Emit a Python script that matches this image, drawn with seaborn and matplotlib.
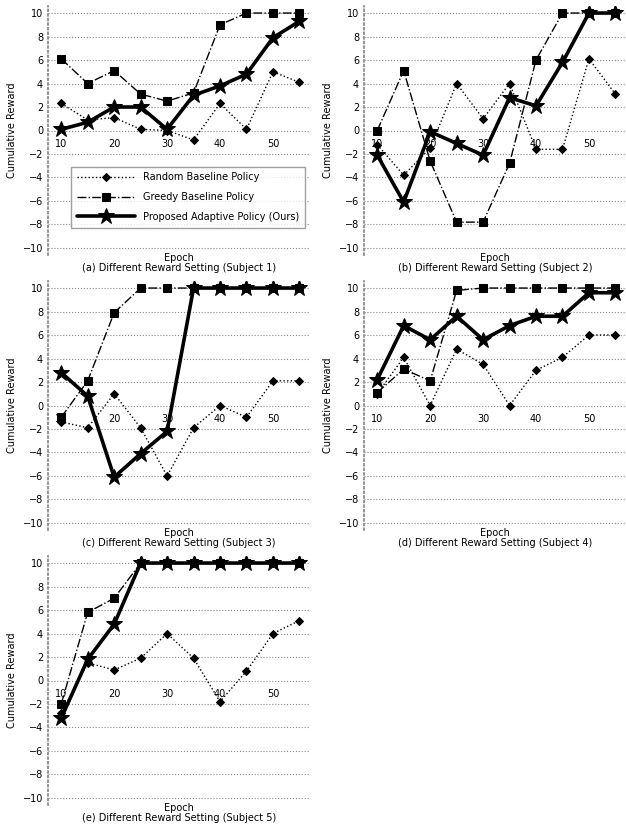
import numpy as np
import pandas as pd
import matplotlib
matplotlib.use("Agg")
import matplotlib.pyplot as plt
import seaborn as sns

# ---- data ----
EPOCHS = [10, 15, 20, 25, 30, 35, 40, 45, 50, 55]

SERIES = ["Random Baseline Policy", "Greedy Baseline Policy", "Proposed Adaptive Policy (Ours)"]

# subject 1
s1_random = [2.3, 0.9, 1.1, 0.1, 0.0, -0.8, 2.3, 0.1, 5.0, 4.1]
s1_greedy = [6.1, 4.0, 5.1, 3.1, 2.5, 3.2, 9.0, 10.0, 10.0, 10.0]
s1_ours   = [0.1, 0.7, 2.0, 2.0, 0.1, 3.0, 3.8, 4.8, 7.9, 9.3]
# subject 2
s2_random = [-1.2, -3.8, -1.5, 4.0, 1.0, 4.0, -1.6, -1.6, 6.1, 3.1]
s2_greedy = [0.0, 5.1, -2.6, -7.8, -7.8, -2.8, 6.0, 10.0, 10.0, 10.0]
s2_ours   = [-2.1, -6.1, -0.1, -1.1, -2.1, 2.8, 2.1, 5.8, 10.0, 10.0]
# subject 3
s3_random = [-1.4, -1.9, 1.0, -1.9, -6.0, -1.9, 0.0, -1.0, 2.1, 2.1]
s3_greedy = [-1.0, 2.1, 7.9, 10.0, 10.0, 10.0, 10.0, 10.0, 10.0, 10.0]
s3_ours   = [2.8, 0.8, -6.1, -4.1, -2.2, 10.0, 10.0, 10.0, 10.0, 10.0]
# subject 4
s4_random = [1.0, 4.1, 0.0, 4.8, 3.5, 0.0, 3.0, 4.1, 6.0, 6.0]
s4_greedy = [1.1, 3.1, 2.1, 9.8, 10.0, 10.0, 10.0, 10.0, 10.0, 10.0]
s4_ours   = [2.2, 6.8, 5.6, 7.6, 5.6, 6.8, 7.6, 7.6, 9.6, 9.6]
# subject 5
s5_random = [-2.8, 1.5, 0.9, 1.9, 4.0, 1.9, -1.8, 0.8, 4.0, 5.1]
s5_greedy = [-2.0, 5.8, 7.0, 10.0, 10.0, 10.0, 10.0, 10.0, 10.0, 10.0]
s5_ours   = [-3.2, 1.8, 4.8, 10.0, 10.0, 10.0, 10.0, 10.0, 10.0, 10.0]

SUBJECTS = [
    ("(a) Different Reward Setting (Subject 1)", s1_random, s1_greedy, s1_ours),
    ("(b) Different Reward Setting (Subject 2)", s2_random, s2_greedy, s2_ours),
    ("(c) Different Reward Setting (Subject 3)", s3_random, s3_greedy, s3_ours),
    ("(d) Different Reward Setting (Subject 4)", s4_random, s4_greedy, s4_ours),
    ("(e) Different Reward Setting (Subject 5)", s5_random, s5_greedy, s5_ours),
]

STYLES = [
    dict(linestyle=":", marker="D", markersize=4, linewidth=1.0),
    dict(linestyle="-.", marker="s", markersize=6, linewidth=1.0),
    dict(linestyle="-", marker="*", markersize=12, linewidth=2.6),
]

sns.set_theme(style="white")
plt.rcParams["font.family"] = ["DejaVu Sans"]
plt.rcParams["text.color"] = "black"
plt.rcParams["axes.labelcolor"] = "black"

W, H = 626, 833
fig = plt.figure(figsize=(W / 100, H / 100), dpi=100)

# panel boxes in pixels: left, top, width, height
BOXES = [(48, 6, 262, 249), (364, 6, 262, 249),
         (48, 281, 262, 249), (364, 281, 262, 249),
         (48, 556, 262, 249)]

for k, ((title, r, g, o), (l, t, w, h)) in enumerate(zip(SUBJECTS, BOXES)):
    ax = fig.add_axes([l / W, 1 - (t + h) / H, w / W, h / H])
    df = pd.DataFrame({"Epoch": EPOCHS * 3,
                       "value": r + g + o,
                       "method": np.repeat(SERIES, len(EPOCHS))})
    for name, st in zip(SERIES, STYLES):
        sub = df[df["method"] == name]
        sns.lineplot(data=sub, x="Epoch", y="value", color="black",
                     markeredgecolor="black", label=name if k == 0 else None,
                     ax=ax, **st)

    ax.set_xlim(7.5, 57)
    ax.set_ylim(-10.6, 10.6)
    ax.set_yticks(range(-10, 11, 2))
    ax.set_xticks([10, 20, 30, 40, 50])
    ax.yaxis.grid(True, linestyle=":", color="#888888", linewidth=0.8)
    ax.xaxis.grid(False)

    for side in ["top", "right"]:
        ax.spines[side].set_visible(False)
    ax.spines["left"].set_linestyle(":")
    ax.spines["left"].set_color("#888888")
    ax.spines["bottom"].set_position(("data", 0))
    ax.spines["bottom"].set_color("none")
    ax.tick_params(axis="both", length=0, labelsize=7, colors="black")
    ax.tick_params(axis="x", pad=6)

    ax.set_ylabel("Cumulative Reward", fontsize=7)
    ax.set_xlabel("Epoch\n" + title, fontsize=7, linespacing=1.1)
    ax.xaxis.set_label_coords(0.5, 0.01)
    ax.xaxis.label.set_va("top")
    ax.yaxis.set_label_coords(-0.12, 0.5)

    if k == 0:
        ax.legend(loc="lower right", bbox_to_anchor=(1.0, 0.09), fontsize=7,
                  handlelength=6, frameon=True, edgecolor="#888888",
                  fancybox=False, borderpad=0.6, labelspacing=1.0)
    else:
        leg = ax.get_legend()
        if leg is not None:
            leg.remove()

fig.savefig("out.png", dpi=100)
